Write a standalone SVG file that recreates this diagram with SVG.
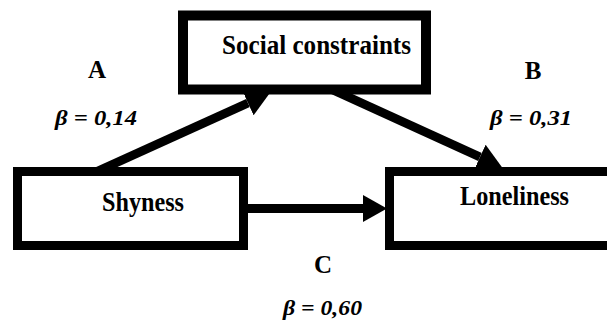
<svg xmlns="http://www.w3.org/2000/svg" width="607" height="322" viewBox="0 0 607 322">
<style>
.box{fill:#fff;stroke:#000}
.lbl{font-family:"Liberation Serif","Times New Roman",serif;font-weight:bold;fill:#000}
.node{font-size:28px;text-anchor:start}
.let{font-size:25px;text-anchor:middle}
.beta{font-size:22px;font-style:italic}
.conn{stroke:#000;stroke-width:9;fill:none;marker-end:url(#ah)}
</style>
<defs>
<marker id="ah" markerUnits="userSpaceOnUse" viewBox="0 -14 25 28" markerWidth="25" markerHeight="28" refX="0" refY="0" orient="auto">
<path d="M0,-13.5 L24,0 L0,13.5 Z" fill="#000"/>
</marker>
</defs>
<rect width="607" height="322" fill="#fff"/>
<g id="connectors">
<line class="conn" x1="98" y1="171" x2="248" y2="103"/>
<line class="conn" x1="333" y1="90" x2="480" y2="157"/>
<line class="conn" x1="246" y1="208.5" x2="363" y2="208.5"/>
</g>
<g id="social">
<rect class="box" x="183" y="15.5" width="243" height="74" stroke-width="10"/>
<text class="lbl node" x="222" y="54" textLength="189" lengthAdjust="spacingAndGlyphs">Social  constraints</text>
</g>
<g id="shyness">
<rect class="box" x="17.5" y="171.5" width="226" height="74" stroke-width="9"/>
<text class="lbl node" x="102" y="211" textLength="82" lengthAdjust="spacingAndGlyphs">Shyness</text>
</g>
<g id="loneliness">
<rect class="box" x="389.5" y="171.5" width="240" height="74" stroke-width="9"/>
<text class="lbl node" x="460" y="205" textLength="109" lengthAdjust="spacingAndGlyphs">Loneliness</text>
</g>
<g id="labels">
<text class="lbl let" x="97" y="78">A</text>
<text class="lbl beta" x="55" y="125" textLength="82" lengthAdjust="spacingAndGlyphs">β = 0,14</text>
<text class="lbl let" x="533" y="79">B</text>
<text class="lbl beta" x="490" y="125" textLength="82" lengthAdjust="spacingAndGlyphs">β = 0,31</text>
<text class="lbl let" x="323" y="273">C</text>
<text class="lbl beta" x="283" y="315" textLength="79" lengthAdjust="spacingAndGlyphs">β = 0,60</text>
</g>
</svg>
